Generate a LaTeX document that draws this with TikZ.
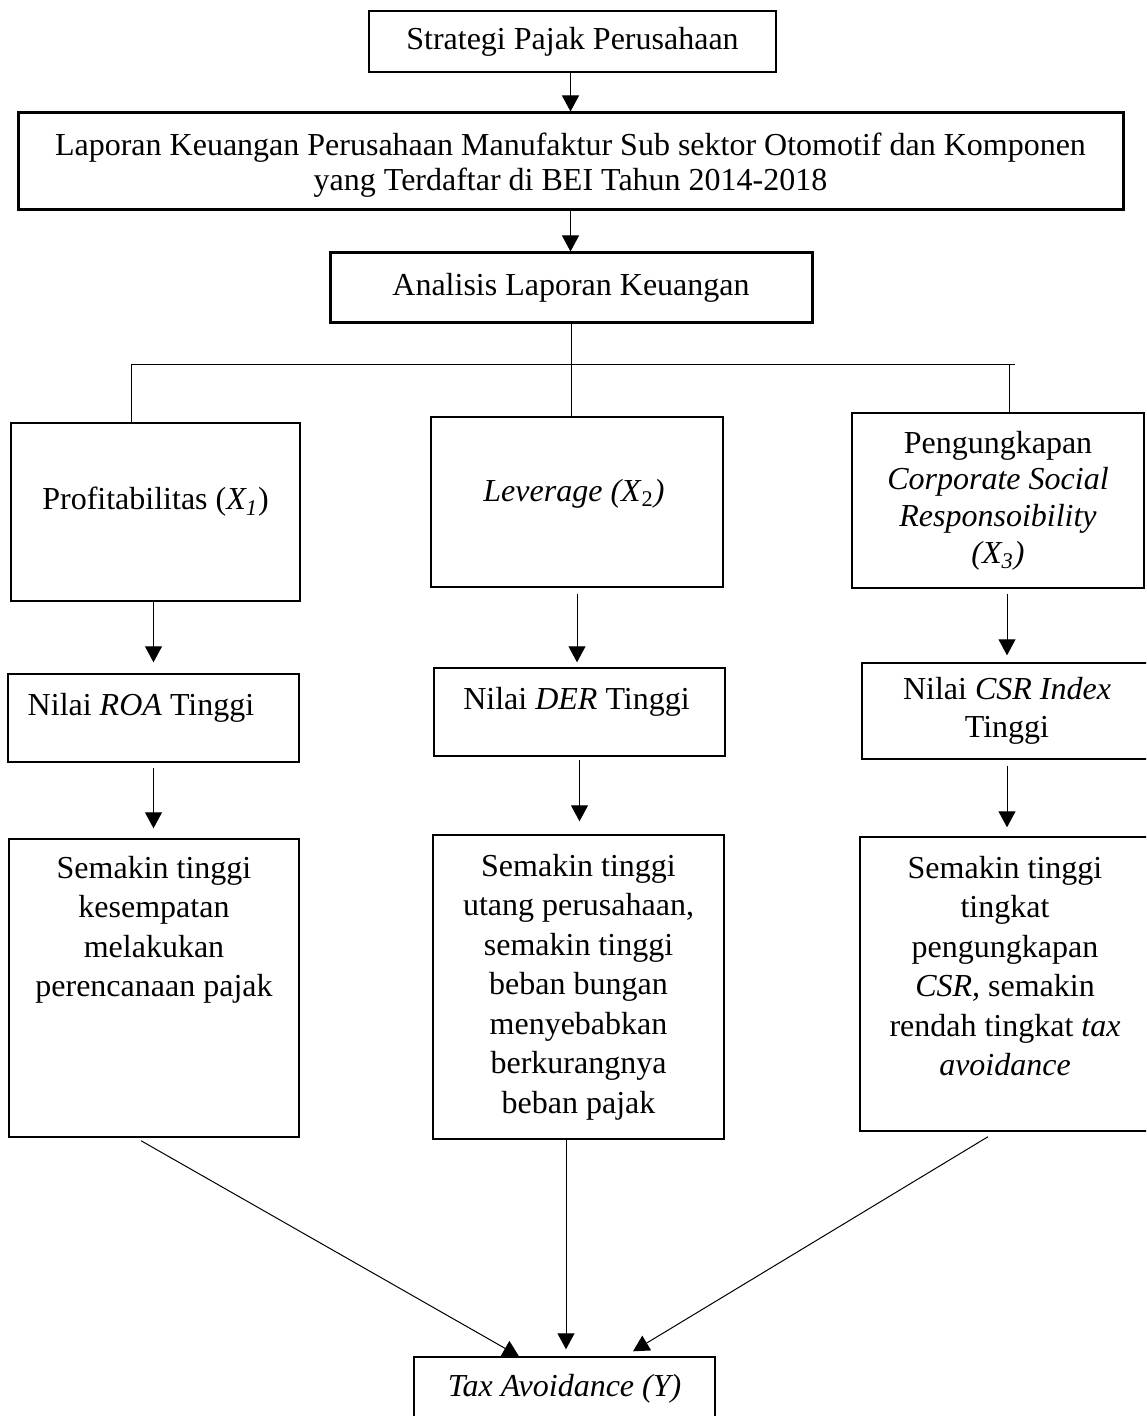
\documentclass[tikz,border=0pt]{standalone}
\usepackage{fontspec}
\setmainfont{Liberation Serif}
\usepackage{tikz}
\usetikzlibrary{arrows.meta}
\usetikzlibrary{positioning}
\tikzset{->/.style = {-{Triangle[length=8pt, width=8.5pt]}}}
\tikzset{box/.style = {draw, rectangle, line width = 0.7pt, inner sep = 0, align = center}}
\tikzset{bbox/.style = {box, line width = 1.5pt}}
\tikzset{txt/.style = {inner sep = 0, align = center}}

\begin{document}
\begin{tikzpicture}[x = 0.5pt, y = -0.5pt, line width = 0.5pt,
                    font = \fontsize{16}{19.75}\selectfont]
      \useasboundingbox (0, 0) rectangle (1146, 1416);
      \clip (0, 0) rectangle (1146, 1416);

      \node [box, minimum width = 203.5pt, minimum height = 30.5pt] (strat) at (572.5, 41.5) {Strategi Pajak Perusahaan};
      \node [bbox, minimum width = 552.5pt, minimum height = 48.5pt] (lap) at (570.5, 161.5) {};
      \node [txt, font = \fontsize{16}{17.75}\selectfont] (lap-t) at (570.5, 165)
            {Laporan Keuangan Perusahaan Manufaktur Sub sektor Otomotif dan Komponen\\yang Terdaftar di BEI Tahun 2014-2018};
      \node [bbox, minimum width = 241pt, minimum height = 35pt] (anal) at (571, 288) {Analisis Laporan Keuangan};

      \node [box, minimum width = 144.5pt, minimum height = 89pt] (prof) at (155.5, 512) {};
      \node [txt] (prof-t) at (155.5, 502) {Profitabilitas (\textit{X\textsubscript{1}})};
      \node [box, minimum width = 146pt, minimum height = 85pt] (lev) at (577, 502) {};
      \node [txt] (lev-t) at (574, 494) {\textit{Leverage (X}\textsubscript{2}\textit{)}};
      \node [box, minimum width = 146pt, minimum height = 87.5pt, font = \fontsize{16}{18.35}\selectfont] (csr) at (998, 500.5)
            {Pengungkapan\\\textit{Corporate Social}\\\textit{Responsoibility}\\\textit{(X\textsubscript{3})}};

      \node [box, minimum width = 145.5pt, minimum height = 44pt] (roa) at (153.5, 718) {};
      \node [txt] (roa-t) at (141, 708) {Nilai \textit{ROA} Tinggi};
      \node [box, minimum width = 145.5pt, minimum height = 44pt] (der) at (579.5, 712) {};
      \node [txt] (der-t) at (576.5, 702) {Nilai \textit{DER} Tinggi};
      \node [box, minimum width = 145pt, minimum height = 48pt, font = \fontsize{16}{19}\selectfont] (idx) at (1007, 711)
            {Nilai \textit{CSR Index}\\Tinggi};

      \node [box, minimum width = 145pt, minimum height = 149pt] (kes) at (154, 988) {};
      \node [txt] (kes-t) at (154, 930) {Semakin tinggi\\kesempatan\\melakukan\\perencanaan pajak};
      \node [box, minimum width = 145.5pt, minimum height = 152pt] (utang) at (578.5, 987)
            {Semakin tinggi\\utang perusahaan,\\semakin tinggi\\beban bungan\\menyebabkan\\berkurangnya\\beban pajak};
      \node [box, minimum width = 145pt, minimum height = 147pt] (tingkat) at (1005, 984) {};
      \node [txt] (tingkat-t) at (1005, 966)
            {Semakin tinggi\\tingkat\\pengungkapan\\\textit{CSR,} semakin\\rendah tingkat \textit{tax}\\\textit{avoidance}};

      \node [box, minimum width = 150.5pt, minimum height = 32pt] (tax) at (564.5, 1389) {\textit{Tax Avoidance (Y)}};

      \coordinate (hl) at (131, 365);
      \coordinate (hr) at (1015, 365);
      \coordinate (hk) at (1009, 365);
      \coordinate (hm) at (anal.south |- hl);

      \draw [->] (strat.south -| lap.north) -- (lap.north);
      \draw [->] (lap.south) -- (lap.south |- anal.north);
      \draw (anal.south) -- (hm);
      \draw (hl) -- (hr);
      \draw (hl) -- (hl |- prof.north);
      \draw (hm) -- (hm |- lev.north);
      \draw (hk) -- (hk |- csr.north);

      \draw [->] ([xshift=-1pt] prof.south) -- ([yshift=5.5pt] roa.north);
      \draw [->] ([yshift=-3pt] lev.south) -- ([xshift=-1.25pt, yshift=2.5pt] der.north);
      \draw [->] ([xshift=4.5pt, yshift=-2.5pt] csr.south) -- ([yshift=3.5pt] idx.north);

      \draw [->] ([yshift=-2.5pt] roa.south) -- ([xshift=-0.25pt, yshift=5pt] kes.north);
      \draw [->] ([yshift=-1.5pt] der.south) -- ([xshift=0.5pt, yshift=6.5pt] utang.north);
      \draw [->] ([yshift=-3pt] idx.south) -- ([xshift=1pt, yshift=4.5pt] tingkat.north);

      \draw [->] ([xshift=-6.5pt, yshift=-1.5pt] kes.south) -- ([xshift=-22.75pt] tax.north);
      \draw [->] ([xshift=-6.25pt] utang.south) -- ([xshift=0.75pt, yshift=3.5pt] tax.north);
      \draw [->] ([xshift=-8.5pt, yshift=-2.5pt] tingkat.south) -- ([xshift=34.25pt, yshift=2.5pt] tax.north);
\end{tikzpicture}
\end{document}
